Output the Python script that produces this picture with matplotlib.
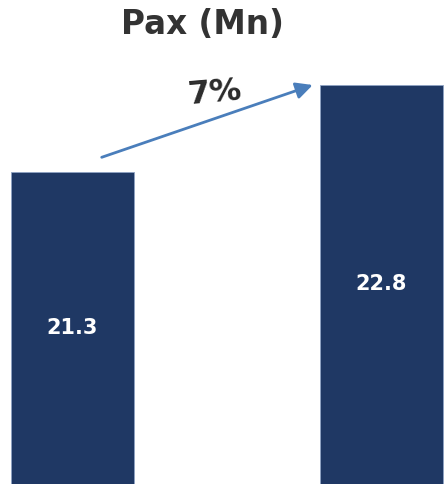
import matplotlib
matplotlib.use("Agg")
import matplotlib.pyplot as plt

categories = ["Prev", "Curr"]
values = [21.3, 22.8]
value_labels = ["21.3", "22.8"]
growth_label = "7%"
title = "Pax (Mn)"

W, H = 444, 484
fig = plt.figure(figsize=(W / 100, H / 100), dpi=100)
ax = fig.add_axes([0, 0, 1, 1])

x = [0, 1]
ax.bar(x, values, width=0.401, color="#1F3864", edgecolor="#8FA3C4", linewidth=0.6)
ax.set_xlim(-0.2346, 1.2023)
ax.set_ylim(15.92, 24.27)
ax.axis("off")

font = "DejaVu Sans"
label_py = [328, 284.5]
for xi, lab, py in zip(x, value_labels, label_py):
    ax.text(xi, 1 - py / H, lab, ha="center", va="center", color="white",
            fontsize=15, fontweight="bold", family=font,
            transform=ax.get_xaxis_transform())

# title
fig.text(202 / W, 1 - 25 / H, title, ha="center", va="center", color="#333333",
         fontsize=23.5, fontweight="bold", family=font)

# arrow in pixel-based figure coords
ax.annotate("", xy=(312.7 / W, 1 - 85 / H), xytext=(101.7 / W, 1 - 157.3 / H),
            xycoords="figure fraction", textcoords="figure fraction",
            arrowprops=dict(arrowstyle="-|>,head_length=1.0,head_width=0.5",
                            color="#4A7EBB", lw=2.0, shrinkA=0, shrinkB=0))
fig.text(215 / W, 1 - 93 / H, growth_label, ha="center", va="center", color="#2B2B2B",
         fontsize=23, fontweight="bold", family=font, rotation=5)

fig.savefig("out.png", dpi=100)
